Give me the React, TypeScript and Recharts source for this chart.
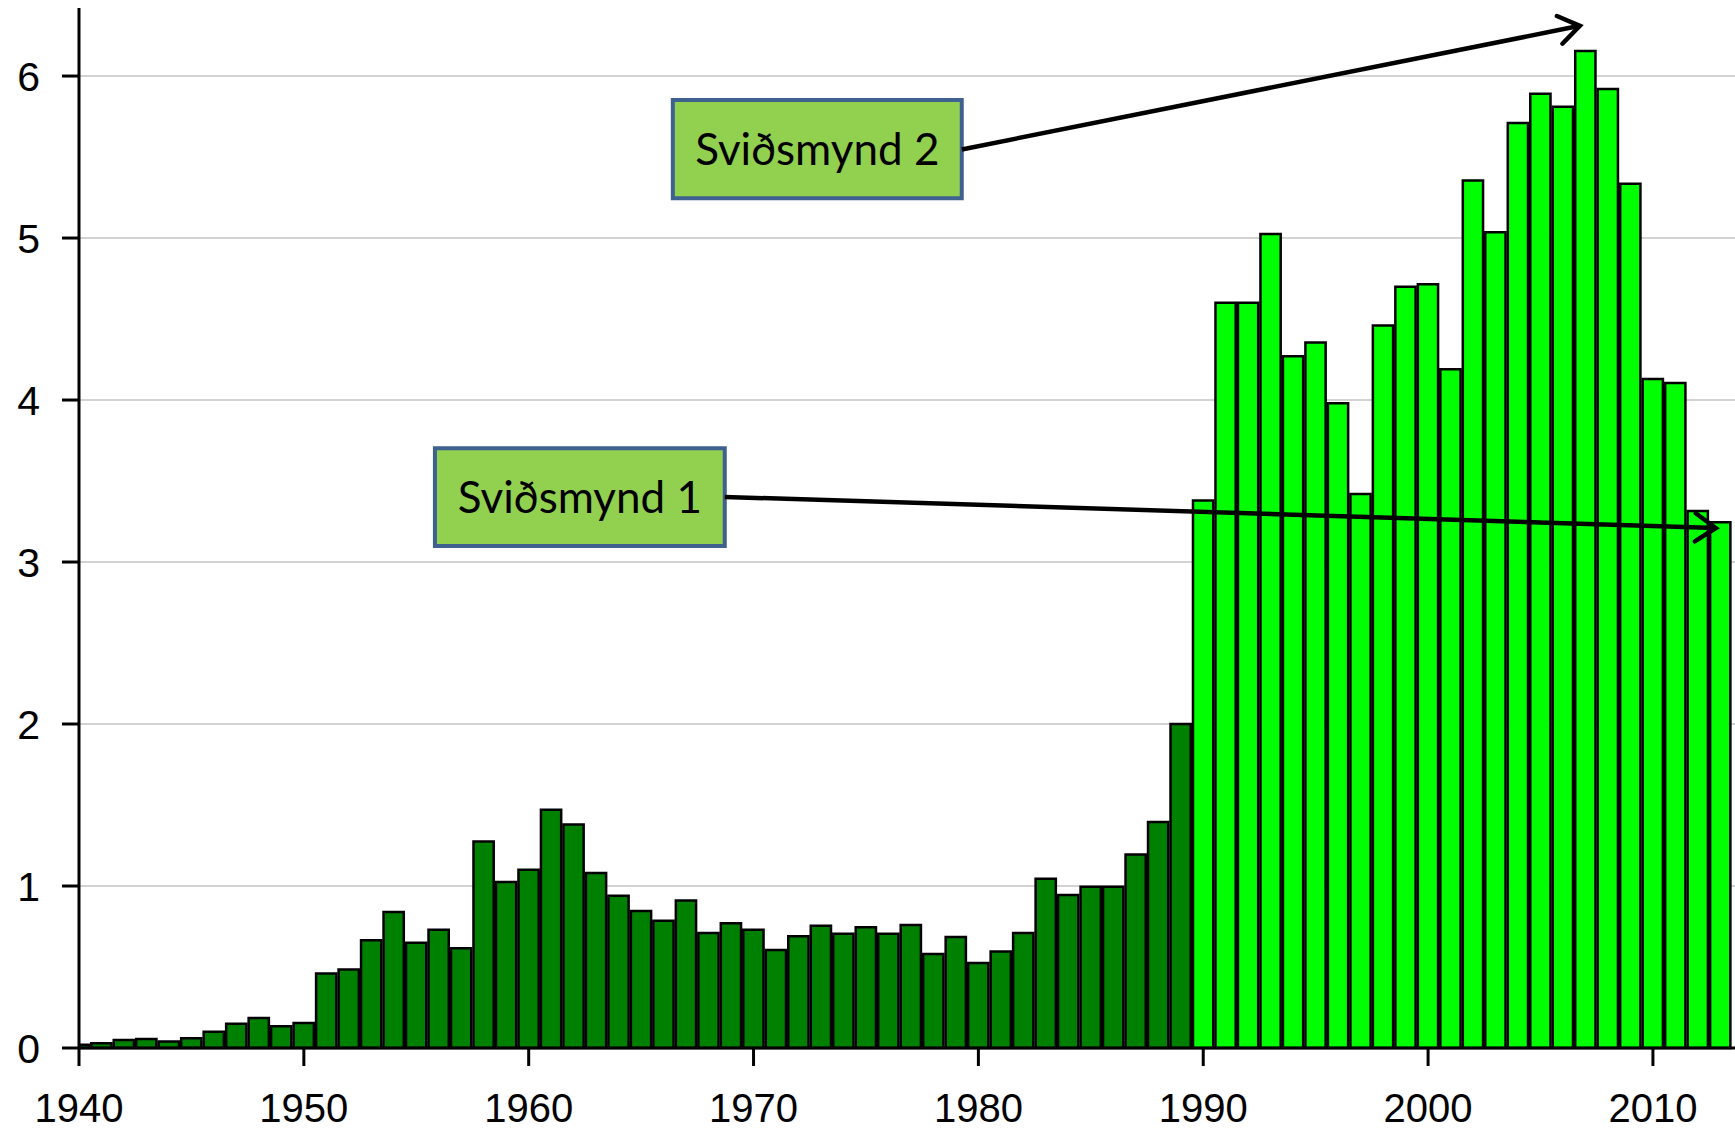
import { BarChart, Bar, Cell, XAxis, YAxis, CartesianGrid, ReferenceArea, ReferenceLine } from 'recharts'

// years on the axis, one bar per year
const years = [
  1940, 1941, 1942, 1943, 1944, 1945, 1946, 1947, 1948, 1949,
  1950, 1951, 1952, 1953, 1954, 1955, 1956, 1957, 1958, 1959,
  1960, 1961, 1962, 1963, 1964, 1965, 1966, 1967, 1968, 1969,
  1970, 1971, 1972, 1973, 1974, 1975, 1976, 1977, 1978, 1979,
  1980, 1981, 1982, 1983, 1984, 1985, 1986, 1987, 1988, 1989,
  1990, 1991, 1992, 1993, 1994, 1995, 1996, 1997, 1998, 1999,
  2000, 2001, 2002, 2003, 2004, 2005, 2006, 2007, 2008, 2009,
  2010, 2011, 2012, 2013,
]

const values = [
  0.02, 0.03, 0.05, 0.055, 0.04, 0.06, 0.1, 0.15, 0.185, 0.135,
  0.155, 0.46, 0.485, 0.665, 0.84, 0.65, 0.73, 0.615, 1.275, 1.025,
  1.1, 1.47, 1.38, 1.08, 0.94, 0.845, 0.785, 0.91, 0.71, 0.77,
  0.73, 0.605, 0.69, 0.755, 0.705, 0.745, 0.705, 0.76, 0.58, 0.685,
  0.525, 0.595, 0.71, 1.045, 0.945, 0.995, 0.995, 1.195, 1.395, 2.0,
  3.38, 4.6, 4.6, 5.025, 4.27, 4.355, 3.98, 3.42, 4.46, 4.7,
  4.715, 4.19, 5.355, 5.035, 5.71, 5.89, 5.81, 6.155, 5.92, 5.335,
  4.13, 4.105, 3.315, 3.245,
]

// first year drawn in the light colour
const splitYear = 1990

const xTicks = [1940, 1950, 1960, 1970, 1980, 1990, 2000, 2010]
const yTicks = [0, 1, 2, 3, 4, 5, 6]

// annotation boxes and arrows, in data units
const boxes = [
  { label: 'Sviðsmynd 1', x1: 1955.83, x2: 1968.72, y1: 3.099, y2: 3.702 },
  { label: 'Sviðsmynd 2', x1: 1966.41, x2: 1979.26, y1: 5.245, y2: 5.852 },
]

const arrows = [
  { from: { x: 1968.72, y: 3.402 }, to: { x: 2012.8, y: 3.21 } },
  { from: { x: 1979.26, y: 5.547 }, to: { x: 2006.75, y: 6.31 } },
]

const data = years.map((year, i) => ({ year, value: values[i] }))

const DARK = '#008000'
const LIGHT = '#00ff00'

const Arrow = (props: any) => {
  const { x1, y1, x2, y2 } = props
  const ang = Math.atan2(y2 - y1, x2 - x1)
  const len = 25
  const spread = 0.6
  const a = [x2 - len * Math.cos(ang - spread), y2 - len * Math.sin(ang - spread)]
  const b = [x2 - len * Math.cos(ang + spread), y2 - len * Math.sin(ang + spread)]
  return (
    <g>
      <line x1={x1} y1={y1} x2={x2} y2={y2} stroke="#000" strokeWidth={4.5} />
      <polyline
        points={`${a[0]},${a[1]} ${x2},${y2} ${b[0]},${b[1]}`}
        fill="none"
        stroke="#000"
        strokeWidth={4.5}
        strokeLinecap="round"
      />
    </g>
  )
}

export default function App() {
  const tickFont = { fontFamily: '"Liberation Sans", Arial, sans-serif', fontSize: 41, fill: '#000' }
  return (
    <div style={{ position: 'absolute', left: 0, top: 0, background: '#fff' }}>
      <BarChart
        width={1735}
        height={1132}
        data={data}
        margin={{ top: 8, right: 0, bottom: 0, left: 0 }}
        barCategoryGap={0}
        barGap={0}
      >
        <CartesianGrid vertical={false} horizontalValues={yTicks} stroke="#c4c4c4" strokeWidth={1.5} />
        <XAxis
          dataKey="year"
          type="number"
          domain={[1940, 2013.65]}
          ticks={xTicks}
          allowDataOverflow
          height={84}
          tickSize={18}
          tickMargin={28}
          tick={{ ...tickFont, fontSize: 40 }}
          axisLine={{ stroke: '#000', strokeWidth: 3 }}
          tickLine={{ stroke: '#000', strokeWidth: 3 }}
        />
        <YAxis
          domain={[0, 6.42]}
          ticks={yTicks}
          width={79}
          tickSize={17}
          tickMargin={22}
          tick={tickFont}
          axisLine={{ stroke: '#000', strokeWidth: 3 }}
          tickLine={{ stroke: '#000', strokeWidth: 3 }}
        />
        <Bar dataKey="value" barSize={22.49} stroke="#000" strokeWidth={2.5} isAnimationActive={false}>
          {data.map((d) => (
            <Cell key={d.year} fill={d.year < splitYear ? DARK : LIGHT} />
          ))}
        </Bar>
        {boxes.map((b) => (
          <ReferenceArea
            key={b.label}
            x1={b.x1}
            x2={b.x2}
            y1={b.y1}
            y2={b.y2}
            fill="#92d050"
            fillOpacity={1}
            stroke="#3f6190"
            strokeWidth={4}
            ifOverflow="visible"
            label={{
              value: b.label,
              position: 'center',
              fill: '#000',
              fontSize: 44,
              fontFamily: 'Lato, "Noto Sans", sans-serif',
            }}
          />
        ))}
        {arrows.map((a, i) => (
          <ReferenceLine
            key={i}
            segment={[a.from, a.to]}
            ifOverflow="visible"
            shape={Arrow}
          />
        ))}
      </BarChart>
    </div>
  )
}
